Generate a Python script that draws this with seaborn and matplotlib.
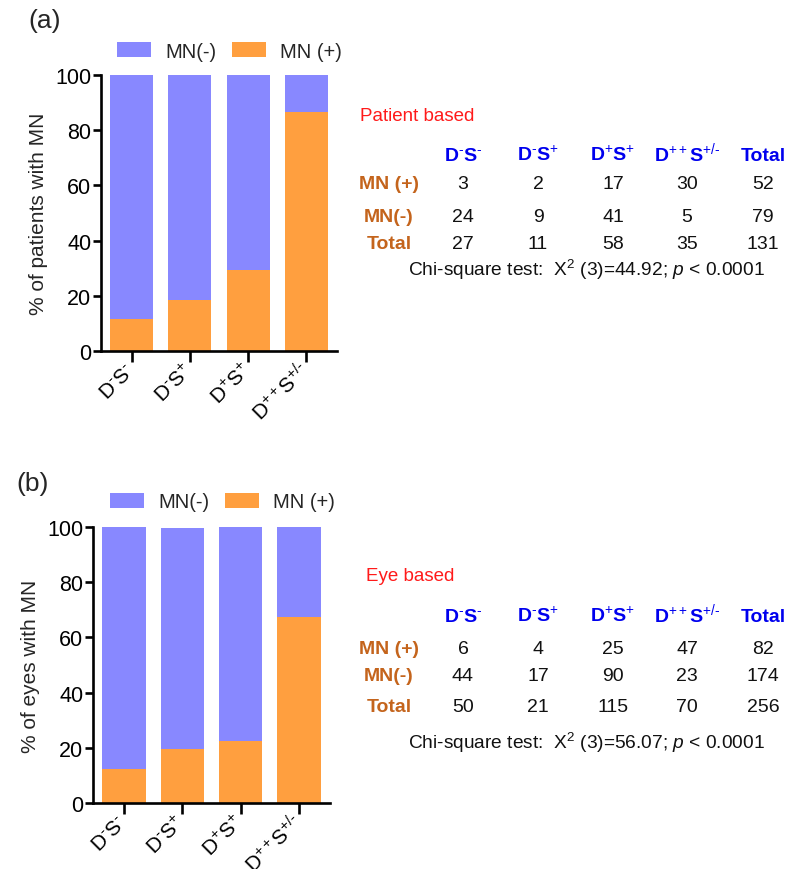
import matplotlib
matplotlib.use("Agg")
import matplotlib.pyplot as plt
import seaborn as sns
import pandas as pd
from matplotlib.patches import Patch

# ---------------- data ----------------
groups = [r"D$^{\text{-}}$S$^{\text{-}}$", r"D$^{\text{-}}$S$^{+}$",
          r"D$^{+}$S$^{+}$", r"D$^{++}$S$^{+/\text{-}}$"]
patient_pos_pct = [11.5, 18.5, 29.5, 86.5]
patient_neg_pct = [88.5, 81.5, 70.5, 13.5]
eye_pos_pct = [12.5, 19.5, 22.5, 67.5]
eye_neg_pct = [87.5, 80.0, 77.5, 32.5]

col_headers = [r"D$^{\text{-}}$S$^{\text{-}}$", r"D$^{\text{-}}$S$^{+}$",
               r"D$^{+}$S$^{+}$", r"D$^{++}$S$^{+/\text{-}}$", "Total"]
row_headers = ["MN (+)", "MN(-)", "Total"]
patient_mn_pos = [3, 2, 17, 30, 52]
patient_mn_neg = [24, 9, 41, 5, 79]
patient_total = [27, 11, 58, 35, 131]
eye_mn_pos = [6, 4, 25, 47, 82]
eye_mn_neg = [44, 17, 90, 23, 174]
eye_total = [50, 21, 115, 70, 256]
patient_chi = "Chi-square test:  X$^{2}$ (3)=44.92; $p$ < 0.0001"
eye_chi = "Chi-square test:  X$^{2}$ (3)=56.07; $p$ < 0.0001"

BLUE = "#8888FF"
ORANGE = "#FF9F3F"
HDR_BLUE = "#0000EE"
ROW_BROWN = "#C4641C"
RED = "#FF1A1A"

sns.set_theme(style="ticks")
plt.rcParams["font.family"] = ["Liberation Sans", "DejaVu Sans"]
plt.rcParams["mathtext.fontset"] = "custom"
plt.rcParams["mathtext.rm"] = "Liberation Sans"
plt.rcParams["mathtext.it"] = "Liberation Sans:italic"
plt.rcParams["mathtext.bf"] = "Liberation Sans:bold"

W, H = 787, 870
fig = plt.figure(figsize=(W / 100, H / 100), dpi=100)


def fx(px):
    return px / W


def fy(py):
    return 1 - py / H


def draw_panel(rect, pos, neg, ylabel, legend_xy, tag, tag_xy):
    ax = fig.add_axes(rect)
    df = pd.DataFrame({"group": groups, "pos": pos,
                       "top": [p + n for p, n in zip(pos, neg)]})
    sns.barplot(data=df, x="group", y="top", color=BLUE, saturation=1,
                width=0.74, linewidth=0, ax=ax)
    sns.barplot(data=df, x="group", y="pos", color=ORANGE, saturation=1,
                width=0.74, linewidth=0, ax=ax)
    ax.set_ylim(0, 100)
    ax.set_xlim(-0.53, 3.53)
    ax.set_yticks([0, 20, 40, 60, 80, 100])
    ax.set_xlabel("")
    ax.set_ylabel(ylabel, fontsize=15, labelpad=5)
    for s in ["top", "right"]:
        ax.spines[s].set_visible(False)
    for s in ["left", "bottom"]:
        ax.spines[s].set_linewidth(1.9)
        ax.spines[s].set_color("black")
    ax.tick_params(axis="both", width=1.9, length=6, labelsize=15.5, colors="black")
    ax.tick_params(axis="y", pad=1)
    ax.tick_params(axis="x", length=8, pad=3)
    for lab in ax.get_xticklabels():
        lab.set_rotation(45)
        lab.set_ha("right")
        lab.set_va("center")
        lab.set_rotation_mode("anchor")
        lab.set_fontsize(15)
    handles = [Patch(facecolor=BLUE, edgecolor="none", label="MN(-)"),
               Patch(facecolor=ORANGE, edgecolor="none", label="MN (+)")]
    ax.legend(handles=handles, ncol=2, frameon=False, loc="center left",
              bbox_to_anchor=(fx(legend_xy[0]), fy(legend_xy[1])),
              bbox_transform=fig.transFigure, borderpad=0, borderaxespad=0,
              handlelength=1.7, handleheight=0.8, handletextpad=0.7,
              columnspacing=0.75, fontsize=14.5)
    fig.text(fx(tag_xy[0]), fy(tag_xy[1]), tag, fontsize=19, ha="left", va="center")
    return ax


def draw_table(title, title_xy, ys, rows, chi, chi_x):
    col_x = [463, 538, 613, 687, 763]
    row_x = 389
    fig.text(fx(title_xy[0]), fy(title_xy[1]), title, color=RED, fontsize=13.5,
             ha="left", va="center")
    for cx, hdr in zip(col_x, col_headers):
        fig.text(fx(cx), fy(ys[0] + 6), hdr, color=HDR_BLUE, fontsize=14,
                 fontweight="bold", ha="center", va="baseline")
    for ry, rname, vals in zip(ys[1:4], row_headers, rows):
        fig.text(fx(row_x), fy(ry + 6), rname, color=ROW_BROWN, fontsize=14,
                 fontweight="bold", ha="center", va="baseline")
        for cx, v in zip(col_x, vals):
            fig.text(fx(cx), fy(ry + 6), str(v), color="#111111", fontsize=14,
                     ha="center", va="baseline")
    fig.text(fx(chi_x), fy(ys[4] + 6), chi, color="#111111", fontsize=13.8,
             ha="center", va="baseline")


# panel (a)
ax_a = draw_panel([fx(101), fy(352), fx(337) - fx(101), fy(76) - fy(352)],
                  patient_pos_pct, patient_neg_pct, "% of patients with MN",
                  (117, 52), "(a)", (28, 21))
draw_table("Patient based", (360, 117), [155, 183, 216, 243, 270],
           [patient_mn_pos, patient_mn_neg, patient_total], patient_chi, 586)

# panel (b)
ax_b = draw_panel([fx(93), fy(804), fx(330) - fx(93), fy(528) - fy(804)],
                  eye_pos_pct, eye_neg_pct, "% of eyes with MN",
                  (110, 503), "(b)", (16, 484))
draw_table("Eye based", (366, 577), [616, 648, 675, 706, 743],
           [eye_mn_pos, eye_mn_neg, eye_total], eye_chi, 586)

fig.savefig("out.png", dpi=100, facecolor="white")
